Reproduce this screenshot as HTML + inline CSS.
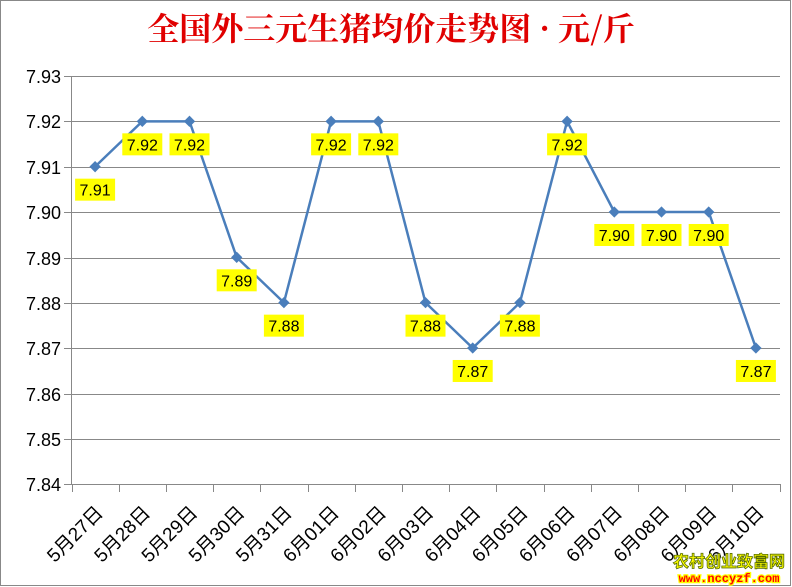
<!DOCTYPE html>
<html><head><meta charset="utf-8"><style>
body{margin:0;background:#fff;}
svg{display:block;}
</style></head><body>
<svg width="792" height="587" xmlns="http://www.w3.org/2000/svg" font-family="Liberation Sans, Noto Sans CJK SC, sans-serif">
<rect x="0.5" y="0.5" width="790" height="585" fill="#fff" stroke="#888"/>
<text x="391" y="40" text-anchor="middle" font-family="Noto Serif CJK SC, serif" font-weight="bold" font-size="32" fill="#e00000">全国外三元生猪均价走势图 · 元/斤</text>
<g stroke="#888" stroke-width="1">
<line x1="64" y1="76.5" x2="780" y2="76.5"/><line x1="64" y1="121.5" x2="780" y2="121.5"/><line x1="64" y1="167.5" x2="780" y2="167.5"/><line x1="64" y1="212.5" x2="780" y2="212.5"/><line x1="64" y1="258.5" x2="780" y2="258.5"/><line x1="64" y1="303.5" x2="780" y2="303.5"/><line x1="64" y1="348.5" x2="780" y2="348.5"/><line x1="64" y1="394.5" x2="780" y2="394.5"/><line x1="64" y1="439.5" x2="780" y2="439.5"/><line x1="64" y1="484.5" x2="780" y2="484.5"/>
<line x1="71.5" y1="76" x2="71.5" y2="484"/>
</g>
<g stroke="#888" id="ticks"></g>
<g font-size="18" fill="#000" text-anchor="end">
<text x="61" y="83">7.93</text><text x="61" y="128">7.92</text><text x="61" y="174">7.91</text><text x="61" y="219">7.90</text><text x="61" y="265">7.89</text><text x="61" y="310">7.88</text><text x="61" y="355">7.87</text><text x="61" y="401">7.86</text><text x="61" y="446">7.85</text><text x="61" y="491">7.84</text>
</g>
<g id="content"></g>
<text x="729" y="567" text-anchor="middle" font-family="Noto Sans CJK SC, sans-serif" font-weight="bold" font-size="16" fill="#ffff00" stroke="#556b00" stroke-width="0.8">农村创业致富网</text>
<text x="729" y="582" text-anchor="middle" font-family="Liberation Mono, monospace" font-weight="bold" font-size="12" fill="#ff0000" stroke="#ffff00" stroke-width="2.5" paint-order="stroke">www.nccyzf.com</text>
<script>
var v=[7.91,7.92,7.92,7.89,7.88,7.92,7.92,7.88,7.87,7.88,7.92,7.90,7.90,7.90,7.87];
var d=["5月27日","5月28日","5月29日","5月30日","5月31日","6月01日","6月02日","6月03日","6月04日","6月05日","6月06日","6月07日","6月08日","6月09日","6月10日"];
var ns="http://www.w3.org/2000/svg",c=document.getElementById("content"),t=document.getElementById("ticks");
function el(n,a,p){var e=document.createElementNS(ns,n);for(var k in a)e.setAttribute(k,a[k]);(p||c).appendChild(e);return e;}
var w=708/15,pts=[];
for(var i=0;i<=15;i++){var x=Math.round(71.5+i*w)+0.5;el("line",{x1:x,y1:484,x2:x,y2:492},t);}
for(var i=0;i<15;i++){var x=71.5+w*(i+0.5),y=76+(7.93-v[i])/0.01*45.33;pts.push([x,y]);}
el("polyline",{points:pts.map(p=>p.join(",")).join(" "),fill:"none",stroke:"#4a7ebb","stroke-width":2.5});
pts.forEach(function(p,i){
el("rect",{x:p[0]-4,y:p[1]-4,width:8,height:8,fill:"#4a7ebb",transform:"rotate(45 "+p[0]+" "+p[1]+")"});
el("rect",{x:p[0]-20,y:p[1]+12,width:40,height:22,fill:"#ffff00"});
var tx=el("text",{x:p[0],y:p[1]+29,"text-anchor":"middle","font-size":"16",fill:"#000"});tx.textContent=v[i].toFixed(2);
var lb=el("text",{x:0,y:0,"text-anchor":"end","font-size":"19",fill:"#000",transform:"translate("+(p[0]+9)+",514) rotate(-45)"});lb.textContent=d[i];
});
</script>
</svg>
</body></html>
